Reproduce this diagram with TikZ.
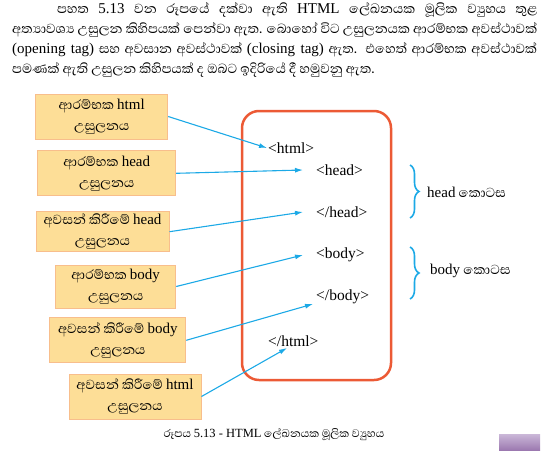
\documentclass[tikz,border=0pt]{standalone}
\usepackage{fontspec}
\setmainfont[Script=Sinhala, Scale=1.12]{Abhaya Libre}
\newfontfamily\latfont{Liberation Serif}
\newcommand{\en}[1]{{\latfont #1}}
\usetikzlibrary{arrows.meta,decorations.pathreplacing}

\definecolor{boxfill}{HTML}{FDDE97}
\definecolor{boxline}{HTML}{F8BE8C}
\definecolor{framered}{HTML}{EC5A35}
\definecolor{arrowblue}{HTML}{1CA9E6}
\definecolor{tabtop}{HTML}{CBB8D8}
\definecolor{tabbottom}{HTML}{9C79B0}

\tikzset{
  tagbox/.style={draw=boxline, fill=boxfill, line width=1pt, minimum height=45pt,
    align=center, inner sep=2pt, font=\fontsize{15}{21}\selectfont},
  tagtext/.style={anchor=west, inner sep=0pt, font=\latfont\fontsize{15.5}{18}\selectfont},
  pointer/.style={draw=arrowblue, line width=1.1pt, -{Latex[length=8pt,width=5pt]}},
  partbrace/.style={draw=arrowblue, line width=1.6pt, decorate,
    decoration={brace, amplitude=9pt}},
  partlabel/.style={anchor=west, inner sep=0pt, font=\fontsize{15}{18}\selectfont}
}

\begin{document}
\begin{tikzpicture}[x=1pt, y=-1pt]
    \useasboundingbox (0,0) rectangle (556,450);

    % text above the figure
    \node[anchor=north west, inner sep=0pt, text width=525pt, align=justify,
      font=\fontsize{15}{20}\selectfont] (intro) at (12,2)
      {\hspace*{45pt}පහත \en{5.13} වන රූපයේ දක්වා ඇති \en{HTML} ලේඛනයක මූලික ව්‍යුහය තුළ\linebreak
       අත්‍යාවශ්‍ය උසුලන කිහිපයක් පෙන්වා ඇත. බොහෝ විට උසුලනයක ආරම්භක අවස්ථාවක්\linebreak
       \en{(opening tag)} සහ අවසාන අවස්ථාවක් \en{(closing tag)} ඇත. එහෙත් ආරම්භක අවස්ථාවක්\linebreak
       පමණක් ඇති උසුලන කිහිපයක් ද ඔබට ඉදිරියේ දී හමුවනු ඇත.};

    % the document frame
    \draw[framered, line width=2.5pt, rounded corners=17pt] (242,111) rectangle (391,380);

    \node[tagtext] (thtml) at (268,148) {<html>};
    \node[tagtext] (thead) at (316,170) {<head>};
    \node[tagtext] (tehead) at (316,212) {</head>};
    \node[tagtext] (tbody) at (316,255) {<body>};
    \node[tagtext] (tebody) at (316,297) {</body>};
    \node[tagtext] (tehtml) at (268,341) {</html>};

    % the boxes on the left
    \node[tagbox, minimum width=132pt] (obox1) at (101.7,116.5) {ආරම්භක \en{html}\\උසුලනය};
    \node[tagbox, minimum width=138pt] (obox2) at (106.7,173.3) {ආරම්භක \en{head}\\උසුලනය};
    \node[tagbox, minimum width=133pt, minimum height=40pt] (obox3) at (102.5,231.7) {අවසන් කිරීමේ \en{head}\\උසුලනය};
    \node[tagbox, minimum width=120pt, minimum height=43pt] (obox4) at (115.7,286.5) {ආරම්භක \en{body}\\උසුලනය};
    \node[tagbox, minimum width=136pt] (obox5) at (117.8,340.3) {අවසන් කිරීමේ \en{body}\\උසුලනය};
    \node[tagbox, minimum width=132pt] (obox6) at (135,396.5) {අවසන් කිරීමේ \en{html}\\උසුලනය};

    \draw[pointer] (obox1.east) -- ([xshift=-1pt]thtml.west);
    \draw[pointer] (obox2.east) -- ([xshift=-13pt]thead.west);
    \draw[pointer] (obox3.east) -- ([xshift=-13pt]tehead.west);
    \draw[pointer] (obox4.east) -- ([xshift=-13pt]tbody.west);
    \draw[pointer] (obox5.east) -- ([shift={(-3pt,-7pt)}]tebody.west);
    \draw[pointer] (obox6.east) -- ([shift={(19pt,-7pt)}]tehtml.west);

    % the two parts
    \draw[partbrace] (410,165) -- (410,218);
    \draw[partbrace] (410,247) -- (410,299);
    \node[partlabel] (headpart) at (427,192) {\en{head} කොටස};
    \node[partlabel] (bodypart) at (430,271) {\en{body} කොටස};

    % caption
    \node[font=\fontsize{12.5}{15}\selectfont, inner sep=0pt] (caption) at (274,435)
      {රූපය \en{5.13 - HTML} ලේඛනයක මූලික ව්‍යුහය};
    \shade[top color=tabtop, bottom color=tabbottom] (499,434) rectangle (540,450);
\end{tikzpicture}
\end{document}
